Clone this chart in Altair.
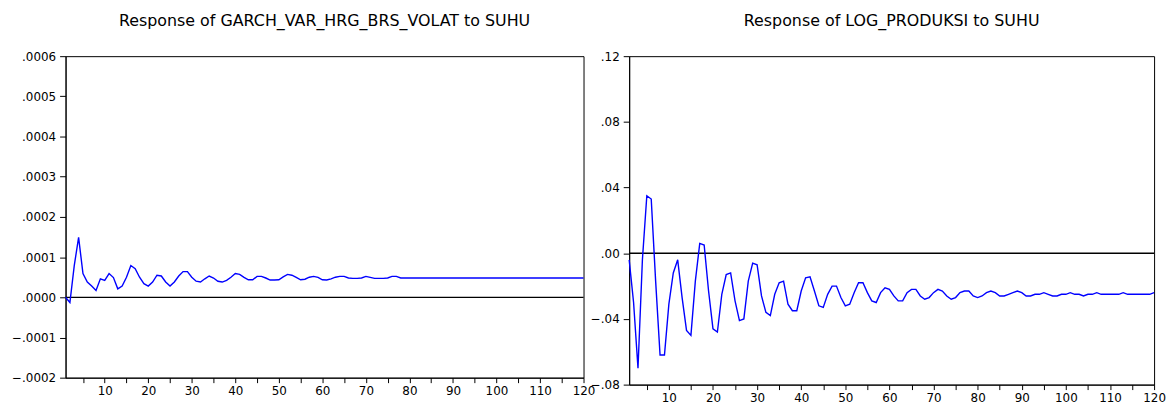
import altair as alt
import pandas as pd

periods = list(range(1, 121))

garch_resp = [
    0.0, -0.000013, 0.000079, 0.000149, 0.000059, 0.000038, 0.000028, 0.000017, 0.000046, 0.000042,
    0.000059, 0.000049, 0.000021, 0.000028, 0.000050, 0.000079, 0.000071, 0.000050, 0.000034, 0.000028,
    0.000038, 0.000055, 0.000053, 0.000038, 0.000028, 0.000038, 0.000053, 0.000064, 0.000064, 0.000050,
    0.000040, 0.000038, 0.000046, 0.000053, 0.000048, 0.000040, 0.000038, 0.000042, 0.000050, 0.000059,
    0.000057, 0.0000495, 0.0000436, 0.0000436, 0.000052, 0.000052, 0.000048, 0.000043, 0.000043, 0.0000436,
    0.000051, 0.000057, 0.000055, 0.0000495, 0.0000436, 0.000045, 0.000050, 0.000052, 0.0000495, 0.0000436,
    0.000043, 0.000046, 0.000050, 0.000052, 0.000052, 0.000048, 0.000047, 0.000047, 0.000048, 0.000052,
    0.0000495, 0.000047, 0.000047, 0.000047, 0.000048, 0.000052, 0.000052, 0.000048, 0.000048, 0.000048,
    0.000048, 0.000048, 0.000048, 0.000048, 0.000048, 0.000048, 0.000048, 0.000048, 0.000048, 0.000048,
    0.000048, 0.000048, 0.000048, 0.000048, 0.000048, 0.000048, 0.000048, 0.000048, 0.000048, 0.000048,
    0.000048, 0.000048, 0.000048, 0.000048, 0.000048, 0.000048, 0.000048, 0.000048, 0.000048, 0.000048,
    0.000048, 0.000048, 0.000048, 0.000048, 0.000048, 0.000048, 0.000048, 0.000048, 0.000048, 0.000048,
]

logprod_resp = [
    -0.004, -0.030, -0.070, -0.004, 0.035, 0.033, -0.017, -0.062, -0.062, -0.031,
    -0.012, -0.004, -0.027, -0.047, -0.050, -0.017, 0.006, 0.005, -0.023, -0.046,
    -0.048, -0.025, -0.013, -0.012, -0.029, -0.041, -0.040, -0.017, -0.006, -0.007,
    -0.026, -0.036, -0.038, -0.025, -0.018, -0.017, -0.031, -0.035, -0.035, -0.023,
    -0.015, -0.0144, -0.023, -0.032, -0.033, -0.025, -0.020, -0.020, -0.027, -0.032,
    -0.031, -0.024, -0.018, -0.018, -0.024, -0.029, -0.030, -0.024, -0.021, -0.022,
    -0.026, -0.029, -0.029, -0.024, -0.022, -0.022, -0.026, -0.028, -0.027, -0.024,
    -0.022, -0.023, -0.026, -0.028, -0.027, -0.024, -0.023, -0.023, -0.026, -0.027,
    -0.026, -0.024, -0.023, -0.024, -0.026, -0.026, -0.025, -0.024, -0.023, -0.024,
    -0.026, -0.026, -0.025, -0.025, -0.024, -0.025, -0.026, -0.026, -0.025, -0.025,
    -0.024, -0.025, -0.025, -0.026, -0.025, -0.025, -0.024, -0.025, -0.025, -0.025,
    -0.025, -0.025, -0.024, -0.025, -0.025, -0.025, -0.025, -0.025, -0.025, -0.024,
]

x_ticks = [5, 10, 15, 20, 25, 30, 35, 40, 45, 50, 55, 60, 65, 70, 75, 80, 85, 90, 95, 100, 105, 110, 115, 120]
left_y_ticks = [-0.0002, -0.0001, 0.0, 0.0001, 0.0002, 0.0003, 0.0004, 0.0005, 0.0006]
right_y_ticks = [-0.08, -0.04, 0.0, 0.04, 0.08, 0.12]

titles = ["Response of GARCH_VAR_HRG_BRS_VOLAT to SUHU", "Response of LOG_PRODUKSI to SUHU"]

FONT = "DejaVu Sans"


def panel(values, yticks, decimals, title, w, h):
    df = pd.DataFrame({"period": periods, "resp": values})
    zero = pd.DataFrame({"y": [0.0]})
    xscale = alt.Scale(domain=[1, 120], nice=False, zero=False)
    yscale = alt.Scale(domain=[yticks[0], yticks[-1]], nice=False, zero=False)
    xaxis = alt.Axis(
        values=x_ticks, title=None, grid=False,
        labelExpr="datum.value % 10 === 0 ? datum.label : ''",
        labelFont=FONT, labelFontSize=12, labelColor="black",
        tickColor="black", domainColor="black", tickSize=5, labelPadding=3,
        labelFlush=False, labelOverlap=False,
    )
    yaxis = alt.Axis(
        values=yticks, title=None, grid=False,
        labelExpr=f"replace(format(datum.value, '.{decimals}f'), '0.', '.')",
        labelFont=FONT, labelFontSize=12, labelColor="black",
        tickColor="black", domainColor="black", tickSize=6, labelPadding=4,
        labelFlush=False, labelOverlap=False,
    )
    line = alt.Chart(df).mark_line(color="#0000ff", strokeWidth=1.4).encode(
        x=alt.X("period:Q", scale=xscale, axis=xaxis),
        y=alt.Y("resp:Q", scale=yscale, axis=yaxis),
    )
    rule = alt.Chart(zero).mark_rule(color="black", strokeWidth=1.3).encode(
        y=alt.Y("y:Q", scale=yscale)
    )
    return alt.layer(rule, line).properties(
        width=w, height=h,
        title=alt.TitleParams(title, font=FONT, fontSize=16, fontWeight="normal",
                              color="black", offset=21, anchor="middle"),
    )


left = panel(garch_resp, left_y_ticks, 4, titles[0], 522, 324)
right = panel(logprod_resp, right_y_ticks, 2, titles[1], 529, 331)

chart = alt.hconcat(left, right, spacing=46, bounds="flush").properties(
    padding={"left": 3, "top": 3, "right": 0, "bottom": 0}
).configure(background="white").configure_view(stroke="black", strokeWidth=1)

chart.save("out.html", embed_options={"renderer": "svg", "actions": False})
